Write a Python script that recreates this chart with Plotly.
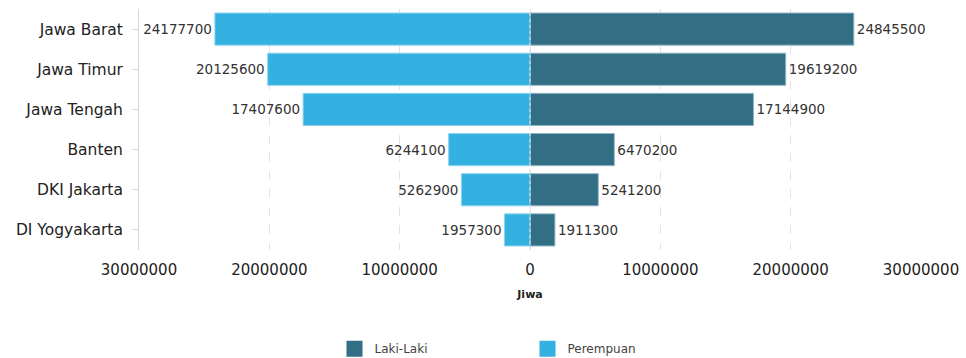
import plotly.graph_objects as go

provinsi = ["Jawa Barat", "Jawa Timur", "Jawa Tengah", "Banten", "DKI Jakarta", "DI Yogyakarta"]
laki_laki = [24845500, 19619200, 17144900, 6470200, 5241200, 1911300]
perempuan = [24177700, 20125600, 17407600, 6244100, 5262900, 1957300]
tick_vals = [-30000000, -20000000, -10000000, 0, 10000000, 20000000, 30000000]
tick_text = ["30000000", "20000000", "10000000", "0", "10000000", "20000000", "30000000"]

font_family = "DejaVu Sans, Verdana, sans-serif"
c_laki = "#336f84"
c_pere = "#33b1e0"

fig = go.Figure()
fig.add_trace(go.Bar(
    y=provinsi, x=laki_laki, orientation="h", name="Laki-Laki",
    marker=dict(color=c_laki, line=dict(color="#8fb6c4", width=1)),
    text=[str(v) for v in laki_laki], textposition="outside",
    textfont=dict(size=13.5, color="#333333", family=font_family),
    cliponaxis=False, showlegend=False,
))
fig.add_trace(go.Bar(
    y=provinsi, x=[-v for v in perempuan], orientation="h", name="Perempuan",
    marker=dict(color=c_pere, line=dict(color="#8fd3ee", width=1)),
    text=[str(v) for v in perempuan], textposition="outside",
    textfont=dict(size=13.5, color="#333333", family=font_family),
    cliponaxis=False, showlegend=False,
))
# legend entries with larger square swatches
for nm, col in [("Laki-Laki", c_laki), ("Perempuan", c_pere)]:
    fig.add_trace(go.Scatter(
        x=[None], y=[None], mode="markers", name=nm,
        marker=dict(symbol="square", size=16, color=col),
        showlegend=True,
    ))

fig.update_layout(
    width=966, height=358,
    margin=dict(l=139, r=45, t=9, b=108, autoexpand=False),
    barmode="relative",
    bargap=0.2,
    plot_bgcolor="white", paper_bgcolor="white",
    font=dict(family=font_family, color="#333333"),
    showlegend=True,
    uniformtext=dict(mode=False),
    legend=dict(
        orientation="h", x=0.25, xanchor="left", y=-0.41, yanchor="middle",
        font=dict(size=12, color="#444444"),
        entrywidth=148, entrywidthmode="pixels",
        itemsizing="trace",
        traceorder="normal",
    ),
)

fig.update_xaxes(
    range=[-30000000, 30000000],
    tickvals=tick_vals, ticktext=tick_text,
    tickfont=dict(size=15, color="#222222", family=font_family),
    showgrid=True, gridcolor="#e3e3e3", griddash="dash", gridwidth=1,
    zeroline=False,
    ticks="", showline=False,
    ticklabelstandoff=9,
    automargin=False,
    title=dict(text="<b>Jiwa</b>", font=dict(size=11, color="#222222"), standoff=12),
)
fig.update_yaxes(
    categoryorder="array", categoryarray=provinsi, autorange="reversed",
    tickfont=dict(size=15.5, color="#222222", family=font_family),
    showline=True, linecolor="#d8d8d8", linewidth=1,
    ticks="outside", ticklen=6, tickcolor="#d8d8d8",
    ticklabelstandoff=6,
    automargin=False,
    showgrid=False,
)
fig.add_vline(x=0, line=dict(color="#dddddd", width=1, dash="dot"), layer="above")

fig.write_html("out.html")
